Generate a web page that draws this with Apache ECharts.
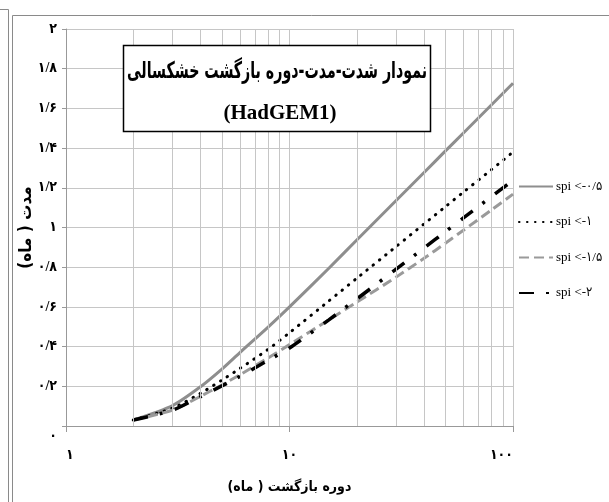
<!DOCTYPE html>
<html>
<head>
<meta charset="utf-8">
<script src="https://cdn.jsdelivr.net/npm/echarts@6/dist/echarts.min.js"></script>
<style>html,body{margin:0;padding:0;background:#fff;}#c{width:609px;height:502px;}</style>
</head>
<body>
<div id="c"></div>
<script>
// Return period (months)
const xs = [2, 3, 4, 5, 6, 8, 10, 15, 20, 30, 40, 50, 60, 80, 100];
// Duration (months) per SPI threshold
const spi05 = [0.03, 0.103, 0.198, 0.288, 0.37, 0.497, 0.60, 0.795, 0.937, 1.136, 1.277, 1.387, 1.476, 1.617, 1.727];
const spi10 = [0.03, 0.09, 0.165, 0.232, 0.29, 0.385, 0.47, 0.63, 0.744, 0.904, 1.018, 1.106, 1.178, 1.291, 1.38];
const spi15 = [0.03, 0.08, 0.15, 0.208, 0.258, 0.342, 0.41, 0.535, 0.624, 0.75, 0.845, 0.922, 0.986, 1.088, 1.168];
const spi20 = [0.03, 0.08, 0.148, 0.203, 0.25, 0.33, 0.393, 0.535, 0.64, 0.79, 0.897, 0.98, 1.048, 1.155, 1.238];
const seriesNames = ['spi <-۰/۵', 'spi <-۱', 'spi <-۱/۵', 'spi <-۲'];
const yTickLabels = {'0':'{z|۰}','0.2':'۰/۲','0.4':'۰/۴','0.6':'۰/۶','0.8':'۰/۸','1':'۱','1.2':'۱/۲','1.4':'۱/۴','1.6':'۱/۶','1.8':'۱/۸','2':'۲'};
const xTickLabels = {'1':'۱','10':'۱۰','100':'۱۰۰'};
const minorX = [2,3,4,5,6,7,8,9,20,30,40,50,60,70,80,90];
const titleLine1 = 'نمودار شدت-مدت-دوره بازگشت خشکسالی';
const titleLine2 = '(HadGEM1)';
const xName = 'دوره بازگشت ( ماه)\u200F';
const yName = 'مدت ( ماه)\u200F';

const F = '"Liberation Serif", "DejaVu Sans Condensed", "DejaVu Sans", serif';
const FA = '"DejaVu Sans Condensed", "DejaVu Sans", serif';
const pair = (arr) => xs.map((x, i) => [x, arr[i]]);

// horizontal fit factor for the title line
const ctx = document.createElement('canvas').getContext('2d');
const t1Font = 'bold 23px ' + FA;
ctx.font = t1Font;
const t1Scale = Math.min(1, 300 / ctx.measureText(titleLine1).width);

const chart = echarts.init(document.getElementById('c'), null, {renderer: 'canvas'});
const gridC = '#c6c6c6';
chart.setOption({
  animation: false,
  backgroundColor: '#fff',
  grid: {left: 66, right: 96, top: 29, bottom: 76},
  legend: {
    data: seriesNames, orient: 'vertical', left: 518, top: 180, padding: 0,
    itemWidth: 34, itemHeight: 14, itemGap: 22.5,
    itemStyle: {opacity: 0},
    textStyle: {fontFamily: F, fontSize: 13, color: '#000', padding: [0, 0, 0, -2]}
  },
  xAxis: {
    type: 'log', logBase: 10, min: 1, max: 100,
    name: xName, nameLocation: 'middle', nameGap: 54, nameMoveOverlap: false,
    nameTextStyle: {fontFamily: FA, fontSize: 14, fontWeight: 'bold', color: '#000'},
    axisLine: {lineStyle: {color: '#999', width: 1}},
    axisTick: {show: true, length: 6, lineStyle: {color: '#999'}},
    axisLabel: {margin: 22, fontFamily: F, fontSize: 14, fontWeight: 'bold', color: '#000',
      alignMinLabel: 'left', alignMaxLabel: 'right',
      formatter: v => xTickLabels[String(Math.round(v))] || ''},
    splitLine: {show: true, lineStyle: {color: gridC, width: 1}},
    minorTick: {show: false}, minorSplitLine: {show: false}
  },
  yAxis: {
    type: 'value', min: 0, max: 2, interval: 0.2,
    name: yName, nameLocation: 'middle', nameGap: 31, nameRotate: 90, nameMoveOverlap: false,
    nameTextStyle: {fontFamily: FA, fontSize: 17, fontWeight: 'bold', color: '#000'},
    axisLine: {show: true, lineStyle: {color: '#999', width: 1}},
    axisTick: {show: true, length: 4, lineStyle: {color: '#999'}},
    axisLabel: {margin: 9, fontFamily: F, fontSize: 14, fontWeight: 'bold', color: '#000',
      rich: {z: {fontFamily: F, fontSize: 14, fontWeight: 'bold', color: '#000', padding: [20, 0, 0, 0]}},
      formatter: v => yTickLabels[String(Math.round(v * 10) / 10)] || ''},
    splitLine: {show: true, lineStyle: {color: gridC, width: 1}}
  },
  series: [
    {type: 'line', name: 'minor', data: [], silent: true,
      markLine: {silent: true, symbol: 'none', label: {show: false},
        lineStyle: {color: gridC, type: 'solid', width: 1},
        data: minorX.map(v => ({xAxis: v}))}},
    {type: 'line', name: seriesNames[0], data: pair(spi05), symbol: 'none', smooth: 0.25,
      lineStyle: {color: '#8e8e8e', width: 3}, itemStyle: {color: '#8e8e8e'}},
    {type: 'line', name: seriesNames[1], data: pair(spi10), symbol: 'none', smooth: 0.25,
      lineStyle: {color: '#000', width: 3, type: [0.5, 7.5], cap: 'round'}, itemStyle: {color: '#000'}},
    {type: 'line', name: seriesNames[2], data: pair(spi15), symbol: 'none', smooth: 0.25,
      lineStyle: {color: '#9a9a9a', width: 3, type: [10, 5]}, itemStyle: {color: '#9a9a9a'}},
    {type: 'line', name: seriesNames[3], data: pair(spi20), symbol: 'none', smooth: 0.25,
      lineStyle: {color: '#000', width: 3.5, type: [15, 12, 3, 13]}, itemStyle: {color: '#000'}}
  ],
  graphic: [
    {type: 'polyline', silent: true, shape: {points: [[12.5, 600], [12.5, 15.5], [700, 15.5]]},
      style: {stroke: '#8a8a8a', lineWidth: 1, fill: null}},
    {type: 'polyline', silent: true, shape: {points: [[0, 9.5], [8.5, 9.5], [8.5, 600]]},
      style: {stroke: '#8a8a8a', lineWidth: 1, fill: null}},
    {type: 'rect', z: 10, shape: {x: 123.5, y: 45.5, width: 307, height: 86},
      style: {fill: '#fff', stroke: '#000', lineWidth: 1.5}},
    {type: 'text', z: 11, x: 277, y: 72, scaleX: t1Scale,
      style: {text: titleLine1, fill: '#000', font: t1Font, textAlign: 'center', textVerticalAlign: 'middle'}},
    {type: 'text', z: 11, x: 280, y: 114,
      style: {text: titleLine2, fill: '#000', font: 'bold 21px "Liberation Serif", serif', textAlign: 'center', textVerticalAlign: 'middle'}}
  ]
});
</script>
</body>
</html>
